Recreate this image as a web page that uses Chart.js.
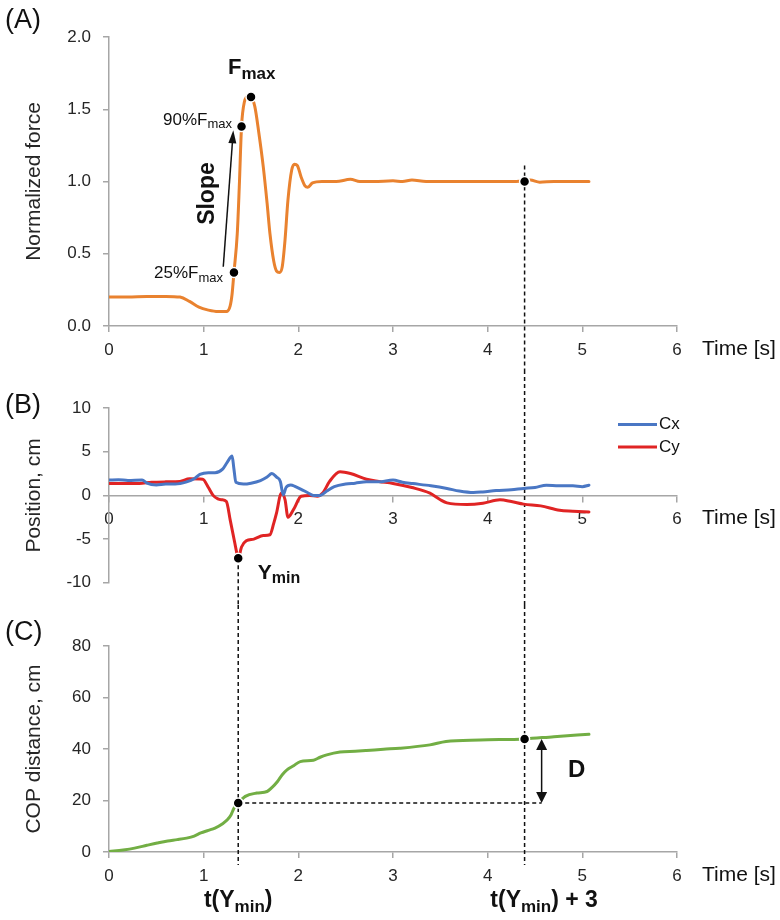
<!DOCTYPE html>
<html>
<head>
<meta charset="utf-8">
<script src="https://cdn.jsdelivr.net/npm/chart.js@4.4.1/dist/chart.umd.min.js"></script>
<style>
  body { margin: 0; background: #fff; }
  #page { position: relative; width: 780px; height: 920px; overflow: hidden; }
  #page canvas { position: absolute; left: 0; }
</style>
</head>
<body>
<div id="page">
  <canvas id="chartA" width="780" height="370" style="top:0"></canvas>
  <canvas id="chartB" width="780" height="235" style="top:370px"></canvas>
  <canvas id="chartC" width="780" height="315" style="top:605px"></canvas>
</div>
<script>
// tick labels
const timeTicks = [0, 1, 2, 3, 4, 5, 6];
const forceTicks = [0, 0.5, 1.0, 1.5, 2.0];
const positionTicks = [-10, -5, 0, 5, 10];
const copTicks = [0, 20, 40, 60, 80];

// (A) normalized force
const forceTime = [0, 0.2, 0.4, 0.6, 0.75, 0.85, 0.95, 1.05, 1.15, 1.24, 1.28, 1.30, 1.32, 1.355, 1.376, 1.40, 1.43, 1.47, 1.50, 1.54, 1.58, 1.63, 1.67, 1.70, 1.74, 1.77, 1.80, 1.83, 1.86, 1.89, 1.93, 1.96, 1.99, 2.03, 2.07, 2.10, 2.15, 2.25, 2.4, 2.55, 2.65, 2.8, 3.0, 3.1, 3.2, 3.35, 3.5, 3.7, 3.9, 4.1, 4.3, 4.45, 4.55, 4.7, 4.9, 5.07];
const forceValue = [0.20, 0.20, 0.205, 0.205, 0.20, 0.17, 0.13, 0.11, 0.10, 0.10, 0.14, 0.22, 0.37, 0.64, 0.96, 1.38, 1.55, 1.59, 1.585, 1.52, 1.35, 1.10, 0.85, 0.64, 0.45, 0.38, 0.37, 0.41, 0.60, 0.87, 1.08, 1.12, 1.11, 1.03, 0.97, 0.96, 0.99, 1.0, 1.0, 1.015, 1.0, 1.0, 1.005, 1.0, 1.01, 1.0, 1.0, 1.0, 1.0, 1.0, 1.0, 1.01, 0.995, 1.0, 1.0, 1.0];
const forceMarkTime = [1.32, 1.40, 1.50, 4.39];
const forceMarkValue = [0.37, 1.38, 1.585, 1.0];

// (B) COP position
const cxTime = [0, 0.1, 0.2, 0.35, 0.4, 0.5, 0.6, 0.7, 0.82, 0.9, 0.96, 1.05, 1.12, 1.2, 1.25, 1.30, 1.32, 1.34, 1.42, 1.5, 1.6, 1.67, 1.72, 1.77, 1.81, 1.84, 1.87, 1.92, 1.97, 2.03, 2.1, 2.16, 2.23, 2.3, 2.38, 2.5, 2.6, 2.72, 2.85, 3.0, 3.1, 3.21, 3.4, 3.57, 3.7, 3.85, 3.95, 4.09, 4.25, 4.38, 4.5, 4.62, 4.75, 4.9, 5.0, 5.07];
const cxValue = [1.75, 1.8, 1.7, 1.75, 1.4, 1.2, 1.3, 1.3, 1.55, 1.9, 2.4, 2.6, 2.6, 3.0, 3.8, 4.5, 3.0, 1.5, 1.3, 1.4, 1.7, 2.1, 2.5, 2.1, 1.6, 0.05, 0.9, 1.2, 1.0, 0.7, 0.3, 0.0, 0.0, 0.5, 1.0, 1.3, 1.4, 1.55, 1.55, 1.75, 1.5, 1.35, 1.1, 0.8, 0.5, 0.33, 0.4, 0.55, 0.65, 0.8, 0.9, 1.17, 1.1, 1.1, 1.0, 1.17];
const cyTime = [0, 0.15, 0.32, 0.45, 0.6, 0.75, 0.85, 0.99, 1.05, 1.10, 1.15, 1.19, 1.24, 1.28, 1.33, 1.35, 1.365, 1.40, 1.45, 1.53, 1.63, 1.70, 1.74, 1.77, 1.82, 1.86, 1.89, 1.95, 2.03, 2.12, 2.2, 2.26, 2.33, 2.44, 2.55, 2.72, 2.85, 3.0, 3.2, 3.39, 3.5, 3.57, 3.78, 3.95, 4.13, 4.25, 4.38, 4.56, 4.76, 4.9, 5.07];
const cyValue = [1.35, 1.35, 1.37, 1.5, 1.55, 1.6, 1.9, 1.85, 0.9, 0.0, -0.4, -0.5, -0.7, -2.8, -5.5, -6.6, -7.2, -5.9, -5.2, -5.0, -4.6, -4.5, -3.2, -2.0, 0.25, -0.5, -2.5, -1.6, -0.1, 0.0, -0.1, 0.3, 1.6, 2.7, 2.5, 1.85, 1.6, 1.37, 0.9, 0.25, -0.5, -0.86, -1.05, -0.9, -0.5, -0.7, -1.0, -1.2, -1.7, -1.8, -1.9];
const yMinTime = [1.365];
const yMinValue = [-7.2];

// (C) COP distance
const copTime = [0, 0.15, 0.27, 0.4, 0.51, 0.62, 0.72, 0.82, 0.9, 0.97, 1.05, 1.12, 1.2, 1.25, 1.29, 1.32, 1.365, 1.44, 1.56, 1.67, 1.72, 1.78, 1.83, 1.88, 1.95, 2.02, 2.16, 2.23, 2.30, 2.44, 2.6, 2.72, 2.9, 3.07, 3.39, 3.56, 3.92, 4.39, 4.7, 5.07];
const copValue = [0.2, 0.8, 1.5, 2.6, 3.5, 4.3, 4.8, 5.4, 6.2, 7.4, 8.4, 9.3, 11.0, 12.5, 14.5, 17.0, 19.0, 21.6, 22.9, 23.5, 25.0, 27.4, 30.0, 31.9, 33.5, 35.1, 35.6, 36.8, 37.7, 38.8, 39.1, 39.4, 39.9, 40.3, 41.6, 42.9, 43.5, 43.9, 44.8, 45.7];
const copMarkTime = [1.365, 4.39];
const copMarkValue = [19.0, 43.9];

// annotation anchors (data units)
const tYminPlus3 = 4.39;
const slopeFrom = [1.207, 0.41];
const slopeTo = [1.313, 1.354];
const dArrowTime = 4.57;
const forceDashTop = 1.11;

const FONT = '"Liberation Sans", Arial, sans-serif';
const TEXT = '#262626';
const INK = '#111';
const AXIS = '#a6a6a6';

Chart.defaults.font.family = FONT;
Chart.defaults.color = TEXT;

function pts(xs, ys) {
    return xs.map((x, i) => ({ x: x, y: ys[i] }));
}

function timeScale(extra) {
    return Object.assign({
        type: 'linear',
        min: timeTicks[0],
        max: timeTicks[timeTicks.length - 1],
        afterBuildTicks: s => { s.ticks = timeTicks.map(v => ({ value: v })); },
        ticks: { color: TEXT, font: { size: 17 }, padding: 8, maxRotation: 0 },
        grid: { drawOnChartArea: false, drawTicks: true, tickLength: 6, color: AXIS, lineWidth: 1.5 },
        border: { color: AXIS, width: 1.5 }
    }, extra);
}

function valueScale(ticks, title, fmt) {
    return {
        type: 'linear',
        min: ticks[0],
        max: ticks[ticks.length - 1],
        afterBuildTicks: s => { s.ticks = ticks.map(v => ({ value: v })); },
        ticks: { color: TEXT, font: { size: 17 }, padding: 12, callback: fmt },
        grid: { drawOnChartArea: false, drawTicks: true, tickLength: 6, color: AXIS, lineWidth: 1.5 },
        border: { color: AXIS, width: 1.5 },
        title: { display: true, text: title, color: TEXT, font: { size: 21 }, padding: { top: 22, bottom: 0 } },
        afterFit: s => { s.width = 109; }
    };
}

function lineSet(label, data, color) {
    return {
        label: label, data: data, borderColor: color, backgroundColor: color,
        borderWidth: 3, pointRadius: 0, fill: false,
        cubicInterpolationMode: 'monotone', borderJoinStyle: 'round', borderCapStyle: 'round', order: 1
    };
}

function markSet(data) {
    return {
        label: 'marks', data: data, showLine: false, clip: false,
        pointRadius: 5, pointBackgroundColor: '#000', pointBorderColor: '#fff',
        pointBorderWidth: 1.5, borderColor: '#000', order: 0
    };
}

function dashed(ctx, x1, y1, x2, y2) {
    ctx.save();
    ctx.strokeStyle = INK;
    ctx.lineWidth = 1.5;
    ctx.setLineDash([4, 3]);
    ctx.beginPath();
    ctx.moveTo(x1, y1);
    ctx.lineTo(x2, y2);
    ctx.stroke();
    ctx.restore();
}

function arrowHead(ctx, x1, y1, x2, y2, len, w) {
    const a = Math.atan2(y2 - y1, x2 - x1);
    const bx = x2 - len * Math.cos(a), by = y2 - len * Math.sin(a);
    ctx.beginPath();
    ctx.moveTo(x2, y2);
    ctx.lineTo(bx + w * Math.sin(a), by - w * Math.cos(a));
    ctx.lineTo(bx - w * Math.sin(a), by + w * Math.cos(a));
    ctx.closePath();
    ctx.fill();
}

// text with a subscript, returns right edge
function subText(ctx, x, y, main, sub, size, subSize, bold, align, tail) {
    const w = bold ? 'bold ' : '';
    const big = w + size + 'px ' + FONT, small = w + subSize + 'px ' + FONT;
    ctx.font = big;
    const mw = ctx.measureText(main).width;
    const tw = tail ? ctx.measureText(tail).width : 0;
    ctx.font = small;
    const sw = ctx.measureText(sub).width;
    let left = x;
    if (align === 'right') left = x - mw - sw - tw;
    else if (align === 'center') left = x - (mw + sw + tw) / 2;
    ctx.fillStyle = INK;
    ctx.textAlign = 'left';
    ctx.textBaseline = 'alphabetic';
    ctx.font = big;
    ctx.fillText(main, left, y);
    ctx.font = small;
    ctx.fillText(sub, left + mw, y + size * 0.22);
    if (tail) {
        ctx.font = big;
        ctx.fillText(tail, left + mw + sw, y);
    }
    return left + mw + sw + tw;
}

function plainText(ctx, text, x, y, font, align, base) {
    ctx.font = font;
    ctx.fillStyle = INK;
    ctx.textAlign = align || 'left';
    ctx.textBaseline = base || 'middle';
    ctx.fillText(text, x, y);
}

function timeLabel(chart, axisY) {
    plainText(chart.ctx, 'Time [s]', chart.chartArea.right + 25, axisY + 23, '21px ' + FONT);
}

function baseOptions(scales, padding) {
    return {
        responsive: false,
        animation: false,
        events: [],
        layout: { padding: padding },
        plugins: { legend: { display: false }, tooltip: { enabled: false } },
        scales: scales
    };
}

// ---- (A)
const annotateA = {
    id: 'annotateA',
    beforeDatasetsDraw(chart) {
        const { x, y } = chart.scales;
        const lx = x.getPixelForValue(tYminPlus3);
        dashed(chart.ctx, lx, y.getPixelForValue(forceDashTop), lx, chart.height);
    },
    afterDatasetsDraw(chart) {
        const ctx = chart.ctx;
        const { x, y } = chart.scales;
        ctx.save();
        // slope arrow
        const x1 = x.getPixelForValue(slopeFrom[0]), y1 = y.getPixelForValue(slopeFrom[1]);
        const x2 = x.getPixelForValue(slopeTo[0]), y2 = y.getPixelForValue(slopeTo[1]);
        ctx.strokeStyle = INK;
        ctx.fillStyle = INK;
        ctx.lineWidth = 1.5;
        ctx.beginPath();
        ctx.moveTo(x1, y1);
        ctx.lineTo(x2 - (x2 - x1) * 0.06, y2 - (y2 - y1) * 0.06);
        ctx.stroke();
        arrowHead(ctx, x1, y1, x2, y2, 13, 4);
        ctx.save();
        ctx.translate((x1 + x2) / 2 - 21, (y1 + y2) / 2 - 5);
        ctx.rotate(-Math.PI / 2);
        plainText(ctx, 'Slope', 0, 0, 'bold 23px ' + FONT, 'center', 'middle');
        ctx.restore();

        const mx = forceMarkTime.map(t => x.getPixelForValue(t));
        const my = forceMarkValue.map(v => y.getPixelForValue(v));
        subText(ctx, mx[0] - 11, my[0] + 5.5, '25%F', 'max', 17, 13, false, 'right');
        subText(ctx, mx[1] - 9.5, my[1] - 2, '90%F', 'max', 17, 13, false, 'right');
        subText(ctx, mx[2] - 23, my[2] - 22.5, 'F', 'max', 22, 17, true, 'left');

        plainText(ctx, '(A)', 5, 21, '27px ' + FONT);
        timeLabel(chart, chart.chartArea.bottom);
        ctx.restore();
    }
};

new Chart(document.getElementById('chartA'), {
    type: 'line',
    data: {
        datasets: [
            markSet(pts(forceMarkTime, forceMarkValue)),
            lineSet('Force', pts(forceTime, forceValue), '#e9822f')
        ]
    },
    options: baseOptions({
        x: timeScale({ afterFit: s => { s.height = 44; } }),
        y: valueScale(forceTicks, 'Normalized force', v => v.toFixed(1))
    }, { top: 37, right: 103, left: 0, bottom: 0 }),
    plugins: [annotateA]
});

// ---- (B)
const annotateB = {
    id: 'annotateB',
    beforeDatasetsDraw(chart) {
        const { x, y } = chart.scales;
        const rx = x.getPixelForValue(tYminPlus3);
        dashed(chart.ctx, rx, 0, rx, chart.height);
        const lx = x.getPixelForValue(yMinTime[0]);
        dashed(chart.ctx, lx, y.getPixelForValue(yMinValue[0]), lx, chart.height);
    },
    afterDatasetsDraw(chart) {
        const ctx = chart.ctx;
        const { x, y } = chart.scales;
        const area = chart.chartArea;
        ctx.save();
        subText(ctx, x.getPixelForValue(yMinTime[0]) + 19.5, y.getPixelForValue(yMinValue[0]) + 20.5, 'Y', 'min', 21, 16, true, 'left');

        // legend
        chart.data.datasets.slice(1).forEach((ds, i) => {
            const ly = area.top + 16.5 + i * 22.5;
            ctx.strokeStyle = ds.borderColor;
            ctx.lineWidth = 3;
            ctx.beginPath();
            ctx.moveTo(area.right - 59, ly);
            ctx.lineTo(area.right - 20, ly);
            ctx.stroke();
            plainText(ctx, ds.label, area.right - 18, ly, '17px ' + FONT);
        });

        plainText(ctx, '(B)', 5, 36, '27px ' + FONT);
        timeLabel(chart, y.getPixelForValue(0));
        ctx.restore();
    }
};

new Chart(document.getElementById('chartB'), {
    type: 'line',
    data: {
        datasets: [
            markSet(pts(yMinTime, yMinValue)),
            lineSet('Cx', pts(cxTime, cxValue), '#4a77c4'),
            lineSet('Cy', pts(cyTime, cyValue), '#e02424')
        ]
    },
    options: baseOptions({
        x: timeScale({ position: { y: 0 } }),
        y: valueScale(positionTicks, 'Position, cm', v => v)
    }, { top: 38, right: 103, left: 0, bottom: 18 }),
    plugins: [annotateB]
});

// ---- (C)
const annotateC = {
    id: 'annotateC',
    beforeDatasetsDraw(chart) {
        const { x, y } = chart.scales;
        const ctx = chart.ctx;
        const bottom = chart.chartArea.bottom + 13;
        const lx = x.getPixelForValue(copMarkTime[0]);
        const rx = x.getPixelForValue(copMarkTime[1]);
        dashed(ctx, lx, 0, lx, bottom);
        dashed(ctx, rx, 0, rx, bottom);
        const hy = y.getPixelForValue(copMarkValue[0]);
        dashed(ctx, lx, hy, x.getPixelForValue(dArrowTime), hy);
    },
    afterDatasetsDraw(chart) {
        const ctx = chart.ctx;
        const { x, y } = chart.scales;
        const area = chart.chartArea;
        ctx.save();
        // D arrow
        const ax = x.getPixelForValue(dArrowTime);
        const ya = y.getPixelForValue(copMarkValue[0]);
        const yb = y.getPixelForValue(copMarkValue[1]);
        ctx.strokeStyle = INK;
        ctx.fillStyle = INK;
        ctx.lineWidth = 1.5;
        ctx.beginPath();
        ctx.moveTo(ax, ya - 6);
        ctx.lineTo(ax, yb + 6);
        ctx.stroke();
        arrowHead(ctx, ax, yb, ax, ya, 11, 5.5);
        arrowHead(ctx, ax, ya, ax, yb, 11, 5.5);
        plainText(ctx, 'D', ax + 35, (ya + yb) / 2 - 1, 'bold 24px ' + FONT, 'center', 'middle');

        const lx = x.getPixelForValue(copMarkTime[0]);
        const rx = x.getPixelForValue(copMarkTime[1]);
        const by = area.bottom + 54.5;
        subText(ctx, lx, by, 't(Y', 'min', 23, 17, true, 'center', ')');
        const end = subText(ctx, rx, by, 't(Y', 'min', 23, 17, true, 'center', ')');
        plainText(ctx, ' + 3', end, by, 'bold 23px ' + FONT, 'left', 'alphabetic');

        plainText(ctx, '(C)', 5, 28, '27px ' + FONT);
        timeLabel(chart, area.bottom);
        ctx.restore();
    }
};

new Chart(document.getElementById('chartC'), {
    type: 'line',
    data: {
        datasets: [
            markSet(pts(copMarkTime, copMarkValue)),
            lineSet('COP distance', pts(copTime, copValue), '#72ae44')
        ]
    },
    options: baseOptions({
        x: timeScale({ afterFit: s => { s.height = 68; } }),
        y: valueScale(copTicks, 'COP distance, cm', v => v)
    }, { top: 41, right: 103, left: 0, bottom: 0 }),
    plugins: [annotateC]
});
</script>
</body>
</html>
